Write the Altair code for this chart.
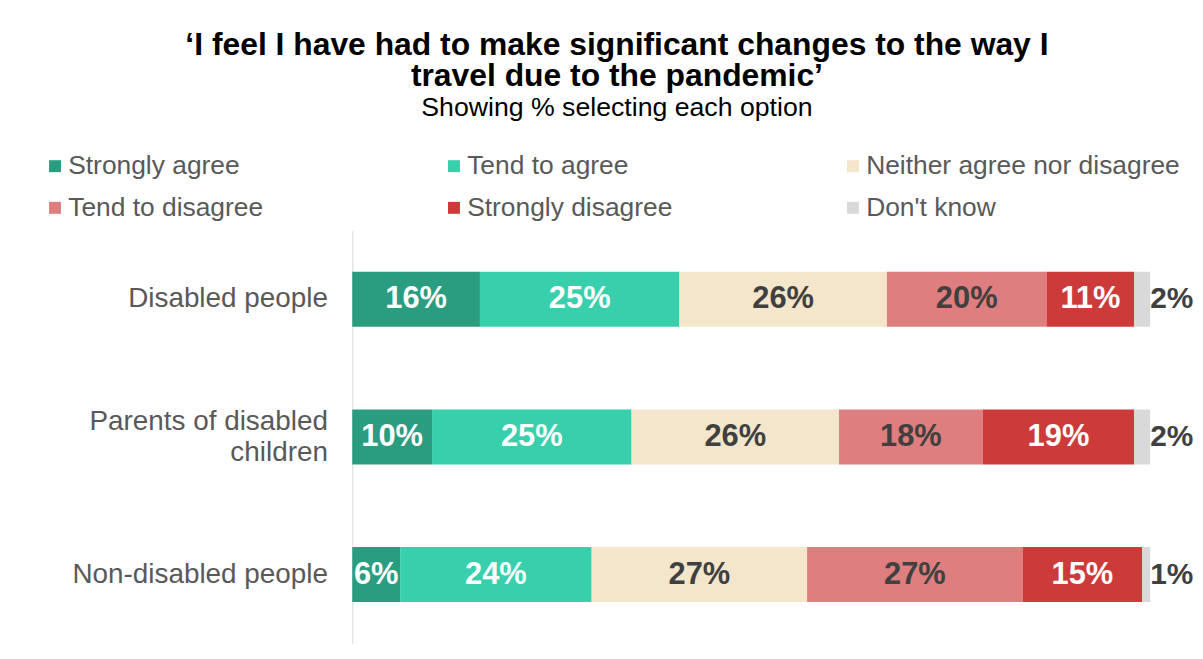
import altair as alt
import pandas as pd

groups = ["Disabled people", "Parents of disabled children", "Non-disabled people"]
responses = ["Strongly agree", "Tend to agree", "Neither agree nor disagree",
             "Tend to disagree", "Strongly disagree", "Don't know"]
colors = ["#2a9d80", "#38cfac", "#f3e6cb", "#de7e7e", "#cc3a3a", "#d9d9d9"]
label_colors = ["#ffffff", "#ffffff", "#404040", "#404040", "#ffffff", "#404040"]

disabled = [16, 25, 26, 20, 11, 2]
parents = [10, 25, 26, 18, 19, 2]
non_disabled = [6, 24, 27, 27, 15, 1]

rows = []
for g, vals in zip(groups, [disabled, parents, non_disabled]):
    start = 0
    for r, v, tc in zip(responses, vals, label_colors):
        rows.append({"group": g, "response": r, "value": v, "start": start,
                     "end": start + v, "mid": start + v / 2,
                     "label": f"{v}%", "tcolor": tc})
        start += v
df = pd.DataFrame(rows)

FONT = "Liberation Sans"
NB = "\u00a0" * 9

y_enc = alt.Y("group:N", sort=groups, title=None,
              scale=alt.Scale(paddingInner=0.6, paddingOuter=0.3),
              axis=alt.Axis(ticks=False, labelFontSize=28, labelColor="#595959",
                            labelFont=FONT, labelPadding=25, domainColor="#d9d9d9",
                            labelLineHeight=31, labelLimit=500,
                            labelOffset={"condition": {"test": "datum.value == 'Parents of disabled children'",
                                                       "value": -15}, "value": 0},
                            labelExpr="datum.label == 'Parents of disabled children' ? ['Parents of disabled', 'children" + NB + "'] : datum.label"))

x_scale = alt.Scale(domain=[0, 100], nice=False, zero=True)

bars = alt.Chart(df).mark_bar().encode(
    x=alt.X("start:Q", scale=x_scale, axis=None),
    x2="end:Q",
    y=y_enc,
    color=alt.Color("response:N", sort=responses,
                    scale=alt.Scale(domain=responses, range=colors),
                    legend=alt.Legend(orient="none", legendX=-312, legendY=-78,
                                      direction="horizontal",
                                      columns=3, title=None, symbolType="square",
                                      symbolSize=144, symbolStrokeWidth=0,
                                      labelFontSize=26.5, labelColor="#595959",
                                      labelFont=FONT, labelOffset=0, labelLimit=600,
                                      gridAlign="all", columnPadding=59,
                                      rowPadding=15, padding=0)),
)

inside = alt.Chart(df).transform_filter(
    alt.datum.response != "Don't know"
).mark_text(fontSize=31, fontWeight="bold", font=FONT).encode(
    x=alt.X("mid:Q", scale=x_scale),
    y=alt.Y("group:N", sort=groups),
    text="label:N",
    color=alt.Color("tcolor:N", scale=None),
)

outside = alt.Chart(df).transform_filter(
    alt.datum.response == "Don't know"
).mark_text(fontSize=30, fontWeight="bold", font=FONT, align="left", dx=0,
            color="#404040").encode(
    x=alt.X("end:Q", scale=x_scale),
    y=alt.Y("group:N", sort=groups),
    text="label:N",
)

chart = alt.layer(bars, inside, outside).properties(
    width=802, height=415,
    autosize=alt.AutoSizeParams(type="none"),
    padding={"left": 346, "top": 222, "right": 45, "bottom": 0},
    title=alt.TitleParams(
        text=["‘I feel I have had to make significant changes to the way I",
              "travel due to the pandemic’"],
        subtitle="Showing % selecting each option",
        font=FONT, fontSize=32, fontWeight="bold", color="#000000",
        lineHeight=32, subtitleFont=FONT, subtitleFontSize=26.8,
        subtitleColor="#000000", subtitlePadding=2,
        anchor="middle", dx=-135, offset=30,
    ),
).configure_view(stroke=None)

chart.save("out.html", embed_options={"renderer": "svg", "actions": False})
